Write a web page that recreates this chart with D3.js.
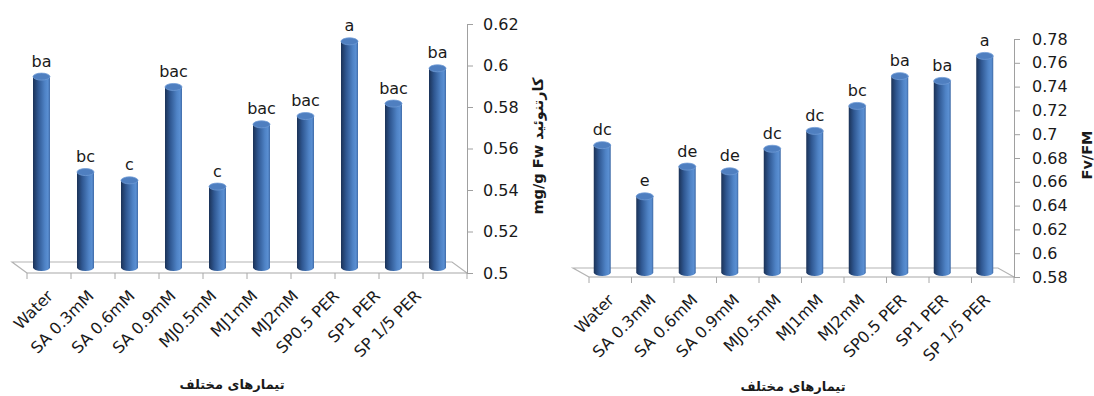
<!DOCTYPE html>
<head>
  <meta charset="utf-8">
  <script src="https://d3js.org/d3.v7.min.js"></script>
  <style>
    body { margin:0; background:#fff; }
    text { font-family: "DejaVu Sans", sans-serif; fill:#1a1a1a; }
  </style>
</head>
<body>
<svg width="1094" height="396"></svg>
<script>

const categories = ["Water", "SA 0.3mM", "SA 0.6mM", "SA 0.9mM", "MJ0.5mM",
                    "MJ1mM", "MJ2mM", "SP0.5 PER", "SP1 PER", "SP 1/5 PER"]

// left chart: carotenoid, mg/g Fw
const caroValues  = [0.592, 0.546, 0.542, 0.587, 0.539, 0.569, 0.573, 0.609, 0.579, 0.596]
const caroLetters = ["ba", "bc", "c", "bac", "c", "bac", "bac", "a", "bac", "ba"]
const caroTicks   = [0.5, 0.52, 0.54, 0.56, 0.58, 0.6, 0.62]

// right chart: Fv/FM
const fvValues  = [0.687, 0.644, 0.669, 0.665, 0.684, 0.699, 0.720, 0.745, 0.741, 0.762]
const fvLetters = ["dc", "e", "de", "de", "dc", "dc", "bc", "ba", "ba", "a"]
const fvTicks   = [0.58, 0.6, 0.62, 0.64, 0.66, 0.68, 0.7, 0.72, 0.74, 0.76, 0.78]

const xTitle = "تیمارهای مختلف"

const svg = d3.select("svg")

const defs = svg.append("defs")
const grad = defs.append("linearGradient").attr("id", "cyl")
grad.selectAll("stop")
  .data([[0, "#1b3257"], [0.3, "#2f5791"], [0.7, "#4f83c6"], [0.88, "#5a8fd2"], [1, "#3f6aa6"]])
  .enter().append("stop")
    .attr("offset", d => d[0])
    .attr("stop-color", d => d[1])

function drawChart(opt) {
  const g = svg.append("g")
  const x = d3.scaleBand().domain(categories).range(opt.xRange)
  // excel squeezes the rotated labels a bit relative to the bars
  const xl = d3.scalePoint().domain(categories).range(opt.labelRange)
  const y = d3.scaleLinear().domain(d3.extent(opt.ticks)).range(opt.yRange)
  const dx = opt.depth[0], dy = opt.depth[1]
  const base = y.range()[0]
  const [x0, x1] = x.range()

  // floor
  g.append("path")
    .attr("d", `M${x0},${base}L${x0 + dx},${base + dy}L${x1 + dx},${base + dy}L${x1},${base}`)
    .attr("fill", "none").attr("stroke", "#b4b4b4").attr("stroke-width", 1.2)
  g.append("line")
    .attr("x1", x0).attr("x2", x1).attr("y1", base).attr("y2", base)
    .attr("stroke", "#a8a8a8").attr("stroke-width", 1.2)

  // category boundary ticks
  g.selectAll(".xt")
    .data(d3.range(categories.length + 1))
    .enter().append("line")
      .attr("x1", i => x0 + i * x.step()).attr("x2", i => x0 + i * x.step())
      .attr("y1", base).attr("y2", base + 6)
      .attr("stroke", "#a8a8a8")

  // y axis
  const ax = g.append("g")
    .attr("transform", `translate(${x1},0)`)
    .call(d3.axisRight(y).tickValues(opt.ticks).tickSize(6).tickSizeOuter(0).tickPadding(opt.pad)
      .tickFormat(d => d3.format("")(+d.toFixed(2))))
  ax.selectAll("path,line").attr("stroke", "#a0a0a0")
  ax.selectAll("text").style("font-size", "16px").attr("fill", "#222")

  // cylinders
  const bw = 17, ry = 3.5
  const ox = dx / 2, oy = dy / 2
  const bars = g.selectAll(".bar")
    .data(opt.values)
    .enter().append("g")
      .attr("transform", (d, i) => `translate(${x(categories[i]) + x.bandwidth() / 2 + ox},${oy})`)

  bars.append("path")
    .attr("d", d => {
      const t = y(d), b = base
      return `M${-bw / 2},${t}L${-bw / 2},${b}A${bw / 2},${ry} 0 0 0 ${bw / 2},${b}L${bw / 2},${t}Z`
    })
    .attr("fill", "url(#cyl)")
  bars.append("ellipse")
    .attr("cx", 0).attr("cy", d => y(d))
    .attr("rx", bw / 2).attr("ry", ry)
    .attr("fill", "#4f7fc0").attr("stroke", "#6e9bd6").attr("stroke-width", 0.8)

  bars.append("text")
    .attr("y", d => y(d) - 10)
    .attr("text-anchor", "middle")
    .style("font-size", "16px")
    .text((d, i) => opt.letters[i])

  // rotated category labels
  g.selectAll(".xl")
    .data(categories)
    .enter().append("text")
      .attr("transform", d => `translate(${xl(d)},${base + 24}) rotate(-45)`)
      .attr("text-anchor", "end")
      .style("font-size", "16px")
      .text(d => d)

  // titles
  g.append("text")
    .attr("x", opt.xTitlePos[0]).attr("y", opt.xTitlePos[1])
    .attr("text-anchor", "middle")
    .style("font-size", "13px").style("font-weight", "bold")
    .text(xTitle)
  g.append("text")
    .attr("transform", `translate(${opt.yTitlePos[0]},${opt.yTitlePos[1]}) rotate(-90)`)
    .attr("text-anchor", "middle")
    .style("font-size", "14.5px").style("font-weight", "bold")
    .text(opt.yTitle)
}

drawChart({
  values: caroValues, letters: caroLetters, ticks: caroTicks,
  xRange: [27, 467], labelRange: [54, 422], yRange: [273, 24], depth: [-15, -11], pad: 10,
  xTitlePos: [232, 389], yTitlePos: [543, 146], yTitle: "mg/g Fw کارتنوئید"
})

drawChart({
  values: fvValues, letters: fvLetters, ticks: fvTicks,
  xRange: [589, 1014], labelRange: [615, 991], yRange: [277, 39], depth: [-16, -9], pad: 12,
  xTitlePos: [793, 391], yTitlePos: [1092, 155], yTitle: "Fv/FM"
})

</script>
</body>
